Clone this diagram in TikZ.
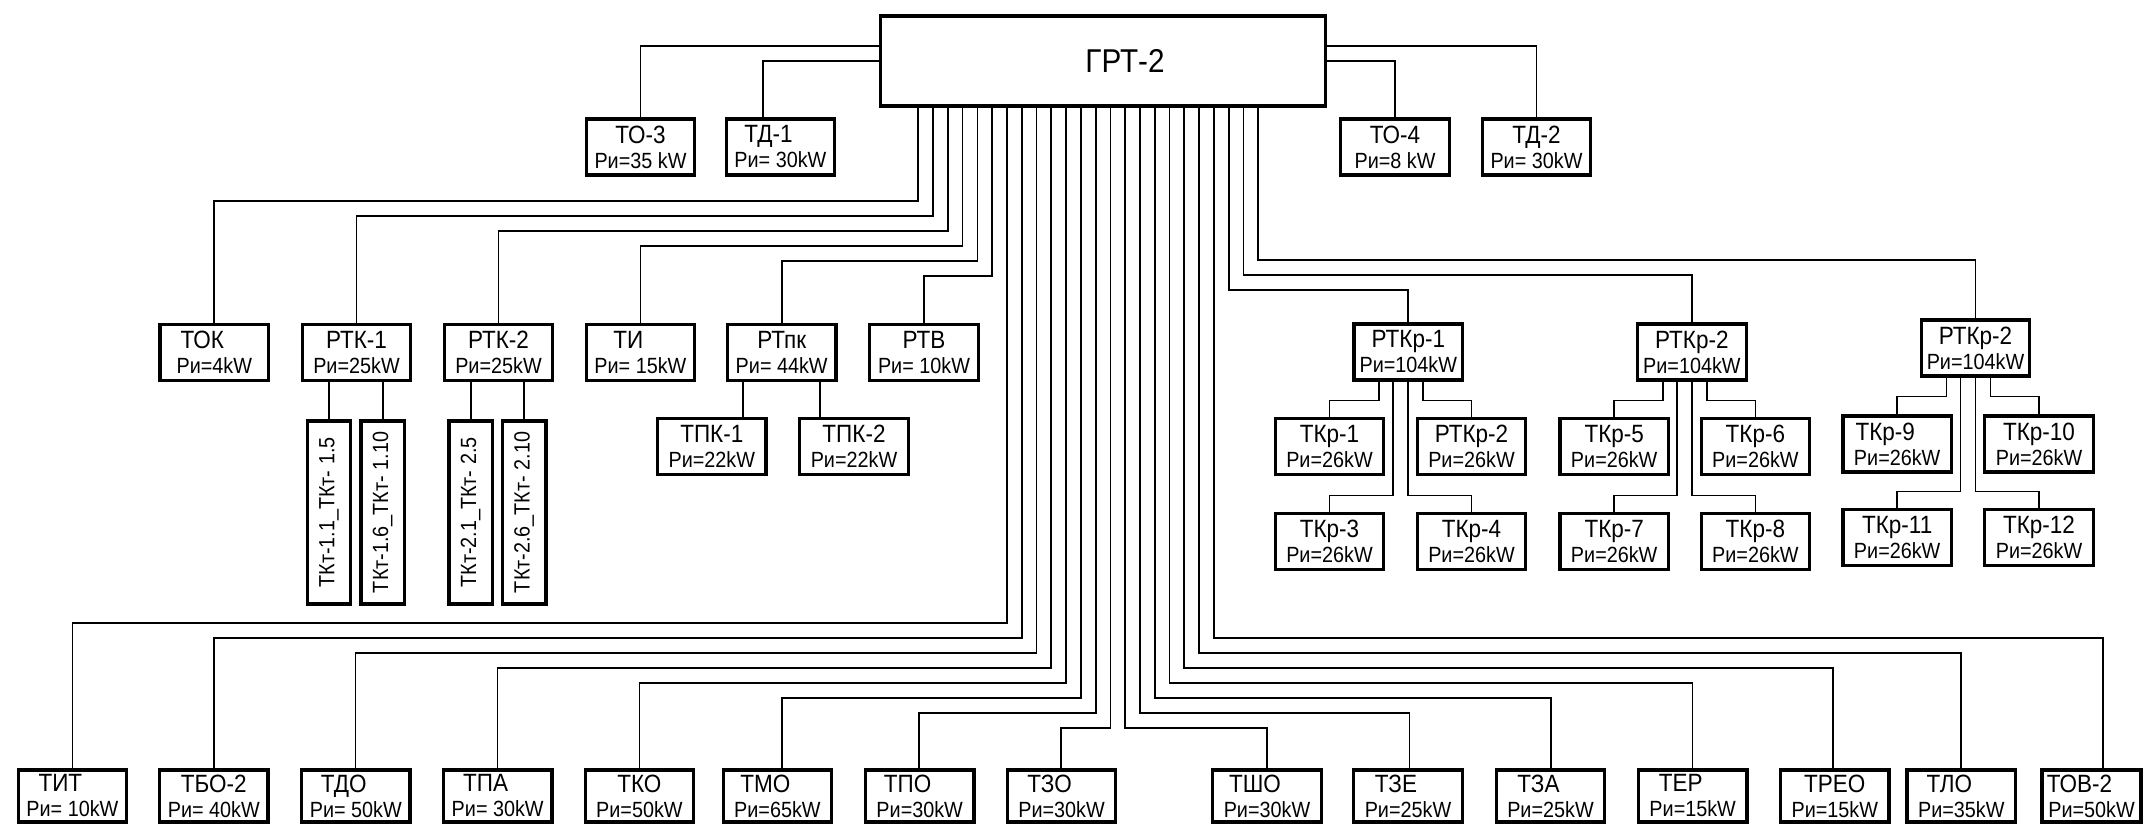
\documentclass[tikz,border=0pt]{standalone}
\usepackage{fontspec}
\usepackage{graphicx}
\setmainfont[FakeStretch=0.9]{Liberation Sans}
\usetikzlibrary{calc}
\newcommand{\pw}[1]{{\fontsize{11}{12.5}\selectfont #1}}
\newcommand{\lnm}[1]{#1\kern12pt}
\begin{document}
\begin{tikzpicture}[x=0.5pt,y=-0.5pt,
  every node/.style={font=\fontsize{12.5}{12.5}\selectfont},
  box/.style={draw,line width=1.6pt,minimum width=54.25pt,minimum height=28pt,inner sep=0pt,align=center},
  lowbox/.style={box,minimum height=26pt},
  vbox/.style={draw,line width=1.6pt,minimum width=21.7pt,minimum height=91.5pt,inner sep=0pt,font=\fontsize{11}{12}\selectfont},
  wire/.style={line width=0.85pt}]
\fill[white] (0,0) rectangle (2144,824);
\useasboundingbox (0,0) rectangle (2144,824);

% main board
\node[draw,line width=1.6pt,minimum width=222.25pt,minimum height=45pt,inner sep=0pt,font=\fontsize{16.5}{19}\selectfont] (g) at (1103,61) {\kern22pt ГРТ-2};

% small top boxes
\node[box] (to3) at (640.5,147) {ТО-3\\\pw{Ри=35 kW}};
\node[box] (td1) at (780.4,147) {\lnm{ТД-1}\\\pw{Ри= 30kW}};
\node[box] (to4) at (1395,147) {ТО-4\\\pw{Ри=8 kW}};
\node[box] (td2) at (1536.5,147) {ТД-2\\\pw{Ри= 30kW}};

% upper row
\node[box] (tok)  at (214.3,352.5) {\lnm{ТОК}\\\pw{Ри=4kW}};
\node[box] (rtk1) at (356.5,352.5) {РТК-1\\\pw{Ри=25kW}};
\node[box] (rtk2) at (498.5,352.5) {РТК-2\\\pw{Ри=25kW}};
\node[box] (ti)   at (640.4,352.5) {\lnm{ТИ}\\\pw{Ри= 15kW}};
\node[box] (rtpk) at (781.7,352.5) {РТпк\\\pw{Ри= 44kW}};
\node[box] (rtv)  at (924,352.5) {РТВ\\\pw{Ри= 10kW}};

% vertical groups
\node[vbox] (k11) at (329,512.5) {\rotatebox{90}{ТКт-1.1\_ТКт- 1.5}};
\node[vbox] (k12) at (382.7,512.5) {\rotatebox{90}{ТКт-1.6\_ТКт- 1.10}};
\node[vbox] (k21) at (470.7,512.5) {\rotatebox{90}{ТКт-2.1\_ТКт- 2.5}};
\node[vbox] (k22) at (524.2,512.5) {\rotatebox{90}{ТКт-2.6\_ТКт- 2.10}};

\node[box] (tpk1) at (711.8,446.5) {ТПК-1\\\pw{Ри=22kW}};
\node[box] (tpk2) at (854,446.5) {ТПК-2\\\pw{Ри=22kW}};

% crane groups
\node[box] (rtkr1) at (1408.3,352) {РТКр-1\\\pw{Ри=104kW}};
\node[box] (rtkr2) at (1691.9,352) {РТКр-2\\\pw{Ри=104kW}};
\node[box] (rtkr3) at (1975.5,348) {РТКр-2\\\pw{Ри=104kW}};

\node[box] (tkr1) at (1329.5,446.5) {ТКр-1\\\pw{Ри=26kW}};
\node[box] (tkr2) at (1471.5,446.5) {РТКр-2\\\pw{Ри=26kW}};
\node[box] (tkr3) at (1329.5,541.3) {ТКр-3\\\pw{Ри=26kW}};
\node[box] (tkr4) at (1471.5,541.3) {ТКр-4\\\pw{Ри=26kW}};
\node[box] (tkr5) at (1614.2,446.5) {ТКр-5\\\pw{Ри=26kW}};
\node[box] (tkr6) at (1755.4,446.5) {ТКр-6\\\pw{Ри=26kW}};
\node[box] (tkr7) at (1614.2,541.3) {ТКр-7\\\pw{Ри=26kW}};
\node[box] (tkr8) at (1755.4,541.3) {ТКр-8\\\pw{Ри=26kW}};
\node[box] (tkr9) at (1897.2,444) {\lnm{ТКр-9}\\\pw{Ри=26kW}};
\node[box] (tkr10) at (2039,444) {ТКр-10\\\pw{Ри=26kW}};
\node[box] (tkr11) at (1897.2,537.5) {ТКр-11\\\pw{Ри=26kW}};
\node[box] (tkr12) at (2039,537.5) {ТКр-12\\\pw{Ри=26kW}};

% bottom row
\node[lowbox] (tit)  at (72.4,796) {\lnm{ТИТ}\\\pw{Ри= 10kW}};
\node[lowbox] (tbo2) at (213.8,796) {ТБО-2\\\pw{Ри= 40kW}};
\node[lowbox] (tdo)  at (355.8,796) {\lnm{ТДО}\\\pw{Ри= 50kW}};
\node[lowbox] (tpa)  at (497.7,796) {\lnm{ТПА}\\\pw{Ри= 30kW}};
\node[lowbox] (tko)  at (639.4,796) {ТКО\\\pw{Ри=50kW}};
\node[lowbox] (tmo)  at (777.4,796) {\lnm{ТМО}\\\pw{Ри=65kW}};
\node[lowbox] (tpo)  at (919.7,796) {\lnm{ТПО}\\\pw{Ри=30kW}};
\node[lowbox] (tzo)  at (1061.6,796) {\lnm{ТЗО}\\\pw{Ри=30kW}};
\node[lowbox] (tsho) at (1267,796) {\lnm{ТШО}\\\pw{Ри=30kW}};
\node[lowbox] (tze)  at (1408,796) {\lnm{ТЗЕ}\\\pw{Ри=25kW}};
\node[lowbox] (tza)  at (1550.5,796) {\lnm{ТЗА}\\\pw{Ри=25kW}};
\node[lowbox] (ter)  at (1692.7,796) {\lnm{ТЕР}\\\pw{Ри=15kW}};
\node[lowbox] (treo) at (1834.8,796) {ТРЕО\\\pw{Ри=15kW}};
\node[lowbox] (tlo)  at (1961.3,796) {\lnm{ТЛО}\\\pw{Ри=35kW}};
\node[lowbox,minimum width=49.5pt] (tov2) at (2091.5,796) {\lnm{ТОВ-2}\\\pw{Ри=50kW}};

% side feeders
\draw[wire] (g.west |- 0,46) -| (to3.north);
\draw[wire] (g.west |- 0,61) -| (763.3,0 |- td1.north);
\draw[wire] (g.east |- 0,46) -| (td2.north);
\draw[wire] (g.east |- 0,61) -| (to4.north);

% bus feeders
\foreach \k/\yt/\xd/\b in {0/201/214.3/tok,1/216/356.5/rtk1,2/231/498.5/rtk2,3/246/640.4/ti,4/261/781.7/rtpk,5/276/924/rtv,6/623/72.4/tit,7/638/214/tbo2,8/653/355.5/tdo,9/668/497.5/tpa,10/683/639.6/tko,11/698/781.7/tmo,12/713/919/tpo,13/728/1061.3/tzo,14/728/1267/tsho,15/713/1409.4/tze,16/698/1550.7/tza,17/683/1692.4/ter,18/668/1833.2/treo,19/653/1961/tlo,20/638/2103.3/tov2,21/290/1408.3/rtkr1,22/275/1691.9/rtkr2,23/260/1975.5/rtkr3}{
  \pgfmathsetmacro{\xb}{918.3+14.78*\k}
  \draw[wire] (g.south -| \xb,0) |- (\xd,\yt) -- (\xd,0 |- \b.north);
}

% sub feeders
\draw[wire] (rtk1.south -| k11.north) -- (k11.north);
\draw[wire] (rtk1.south -| k12.north) -- (k12.north);
\draw[wire] (rtk2.south -| k21.north) -- (k21.north);
\draw[wire] (rtk2.south -| k22.north) -- (k22.north);
\draw[wire] (rtpk.south -| 743,0) -- (743,0 |- tpk1.north);
\draw[wire] (rtpk.south -| 820.3,0) -- (820.3,0 |- tpk2.north);

\foreach \p/\a/\b/\c/\d in {rtkr1/tkr1/tkr2/tkr3/tkr4,rtkr2/tkr5/tkr6/tkr7/tkr8,rtkr3/tkr9/tkr10/tkr11/tkr12}{
  \draw[wire] ([xshift=-14.5pt]\p.south) -- ++(0,19) -| (\a.north);
  \draw[wire] ([xshift=7.5pt]\p.south) -- ++(0,19) -| (\b.north);
  \draw[wire] ([xshift=-7.5pt]\p.south) -- ++(0,114) -| (\c.north);
  \draw[wire] (\p.south) -- ++(0,114) -| (\d.north);
}
\end{tikzpicture}
\end{document}
